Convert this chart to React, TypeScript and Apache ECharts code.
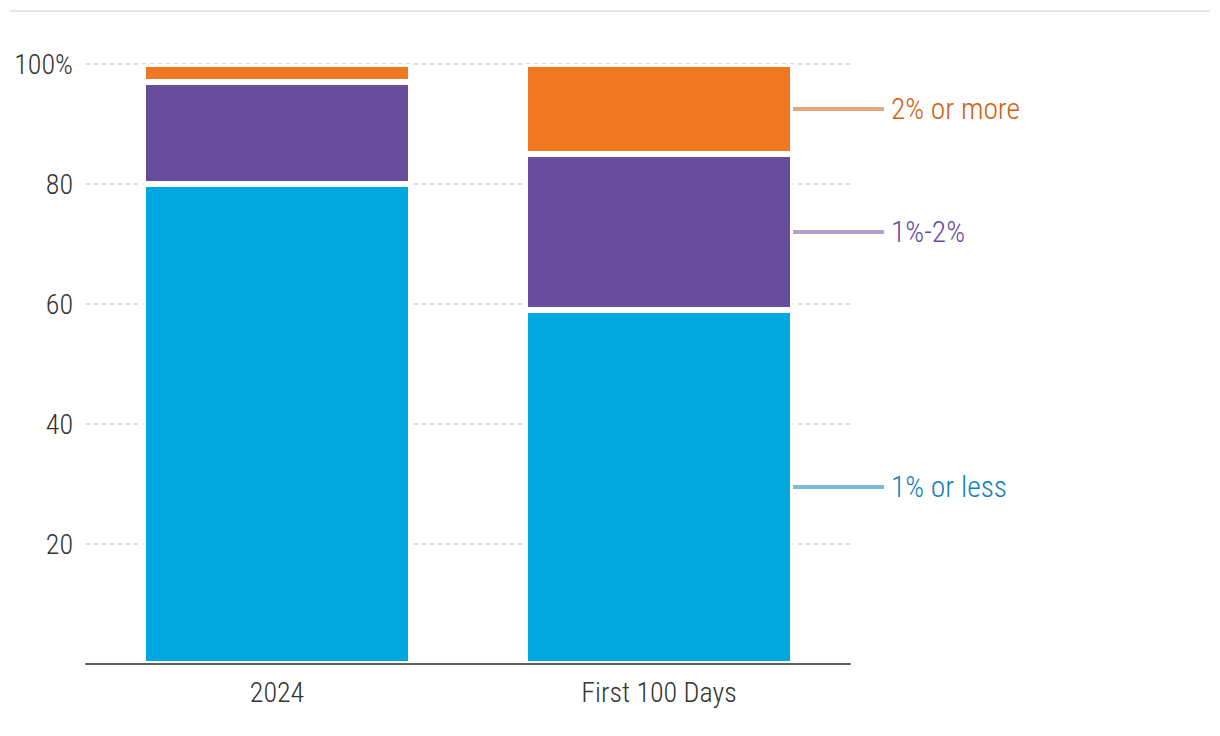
import React, { useEffect, useRef } from "react";
import * as echarts from "echarts";

const categories = ["2024", "First 100 Days"];
const seriesNames = ["1% or less", "1%-2%", "2% or more"];
const lowValues = [80, 59];
const midValues = [17, 26];
const highValues = [3, 15];
const yTicks = [0, 20, 40, 60, 80, 100];

const barColors = ["#00A8E0", "#694D9D", "#F07823"];
const textColors = ["#0F7FBD", "#674B9B", "#D0600F"];
const lineColors = ["#7BBAD8", "#B1A2CC", "#E5A87C"];

const FONT = "'Liberation Sans Narrow', 'Roboto Condensed', 'DejaVu Sans Condensed', sans-serif";
const FS = 28;

function makeSeries(name: string, values: number[], i: number) {
  return {
    name,
    type: "bar",
    stack: "total",
    barWidth: 268,
    itemStyle: { color: barColors[i], borderColor: "#ffffff", borderWidth: 3 },
    data: values.map((v, idx) =>
      idx === values.length - 1
        ? {
            value: v,
            label: {
              show: true,
              position: "right",
              distance: 0,
              formatter: "{l|}{t|" + name + "}",
              rich: {
                l: { width: 91, height: 4, backgroundColor: lineColors[i], verticalAlign: "middle" },
                t: {
                  color: textColors[i],
                  fontSize: 29.5,
                  fontWeight: 300,
                  fontFamily: FONT,
                  padding: [0, 0, 0, 7],
                  verticalAlign: "middle",
                },
              },
            },
          }
        : { value: v }
    ),
  };
}

export default function App() {
  const ref = useRef<HTMLDivElement>(null);
  useEffect(() => {
    if (!ref.current) return;
    const chart = echarts.init(ref.current, null, { renderer: "svg" });
    chart.setOption({
      animation: false,
      backgroundColor: "#ffffff",
      textStyle: { fontFamily: FONT },
      graphic: [
        {
          type: "rect",
          left: 10,
          top: 10,
          shape: { width: 1200, height: 2 },
          style: { fill: "#E6E6E6" },
        },
      ],
      grid: { left: 86, right: 370, top: 64, bottom: 72, containLabel: false },
      xAxis: {
        type: "category",
        data: categories,
        z: 10,
        axisTick: { show: false },
        axisLine: { lineStyle: { color: "#606060", width: 2 } },
        axisLabel: { color: "#333333", fontSize: FS, fontWeight: 300, fontFamily: FONT, margin: 14 },
      },
      yAxis: {
        type: "value",
        min: yTicks[0],
        max: yTicks[yTicks.length - 1],
        interval: 20,
        axisLine: { show: false },
        axisTick: { show: false },
        axisLabel: {
          color: "#333333",
          fontSize: FS,
          fontWeight: 300,
          fontFamily: FONT,
          margin: 13,
          formatter: (v: number) => (v === 0 ? "" : v === 100 ? "100%" : String(v)),
        },
        splitLine: {
          show: true,
          lineStyle: { color: "#DDDDDD", width: 2, type: [4, 4] },
        },
      },
      series: [
        makeSeries(seriesNames[0], lowValues, 0),
        makeSeries(seriesNames[1], midValues, 1),
        makeSeries(seriesNames[2], highValues, 2),
      ],
    });
    return () => chart.dispose();
  }, []);
  return (
    <div
      ref={ref}
      style={{ position: "fixed", left: 0, top: 0, width: 1220, height: 736 }}
    />
  );
}
